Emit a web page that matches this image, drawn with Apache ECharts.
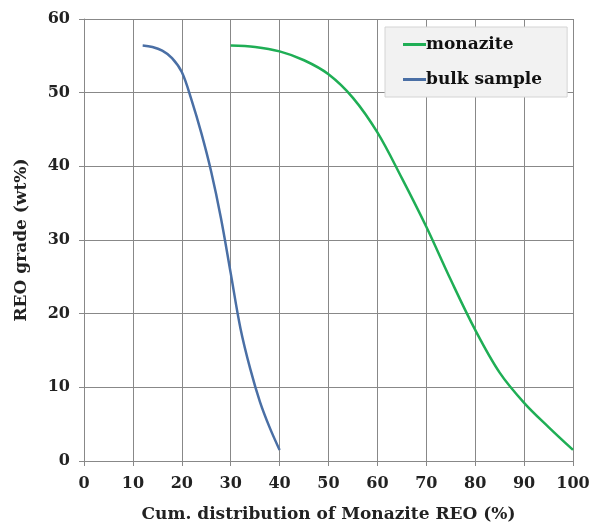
<!DOCTYPE html>
<html><head><meta charset="utf-8">
<script src="https://cdn.jsdelivr.net/npm/echarts@6/dist/echarts.min.js"></script>
<style>html,body{margin:0;padding:0;background:#fff}#c{width:590px;height:527px}</style>
</head><body><div id="c"></div>
<script>
const xTicks = [0,10,20,30,40,50,60,70,80,90,100];
const yTicks = [0,10,20,30,40,50,60];
const monazite = [[30,56.4],[35,56.2],[40,55.6],[45,54.4],[50,52.5],[55,49.3],[60,44.6],[65,38.4],[70,31.8],[75,24.6],[80,17.8],[85,12],[90,7.9],[95,4.6],[100,1.5]];
const bulk = [[12,56.4],[14,56.2],[16,55.7],[18,54.7],[20,52.8],[22,49],[24,44.5],[26,39.3],[28,33],[30,25.5],[32,18],[34,12.5],[36,8],[38,4.5],[40,1.5]];
const font = 'DejaVu Serif';
const chart = echarts.init(document.getElementById('c'));
chart.setOption({
  animation:false,
  grid:{left:84,right:17,top:19,bottom:66,containLabel:false,outerBoundsMode:'none'},
  legend:{
    left:385, top:27, orient:'vertical', itemGap:16,
    padding:[8,25,8,18],
    backgroundColor:'#f2f2f2', borderColor:'#d4d4d4', borderWidth:1,
    itemWidth:23, itemHeight:3, icon:'rect',
    textStyle:{fontFamily:font,fontWeight:'bold',fontSize:17,color:'#111',padding:[0,0,0,-5],height:19,lineHeight:19},
    data:['monazite','bulk sample']
  },
  xAxis:{type:'value',min:xTicks[0],max:xTicks[xTicks.length-1],interval:10,
    name:'Cum. distribution of Monazite REO (%)',nameLocation:'middle',nameGap:45,
    nameTextStyle:{fontFamily:font,fontWeight:'bold',fontSize:17,color:'#222'},
    axisLine:{show:true,lineStyle:{color:'#888'}},
    axisTick:{show:true,length:5,lineStyle:{color:'#888'}},
    axisLabel:{fontFamily:font,fontWeight:'bold',fontSize:16,color:'#222',margin:15},
    splitLine:{show:true,lineStyle:{color:'#888',width:1}}},
  yAxis:{type:'value',min:yTicks[0],max:yTicks[yTicks.length-1],interval:10,
    name:'REO grade (wt%)',nameLocation:'middle',nameGap:54,nameRotate:90,
    nameTextStyle:{fontFamily:font,fontWeight:'bold',fontSize:17,color:'#222'},
    axisLine:{show:true,lineStyle:{color:'#888'}},
    axisTick:{show:true,length:5,lineStyle:{color:'#888'}},
    axisLabel:{fontFamily:font,fontWeight:'bold',fontSize:16,color:'#222',margin:14},
    splitLine:{show:true,lineStyle:{color:'#888',width:1}}},
  series:[
    {name:'monazite',type:'line',data:monazite,smooth:0.35,showSymbol:false,
     lineStyle:{color:'#1fae55',width:2.5},itemStyle:{color:'#1fae55'}},
    {name:'bulk sample',type:'line',data:bulk,smooth:0.35,showSymbol:false,
     lineStyle:{color:'#4a6fa5',width:2.5},itemStyle:{color:'#4a6fa5'}}
  ]
});
</script></body></html>
